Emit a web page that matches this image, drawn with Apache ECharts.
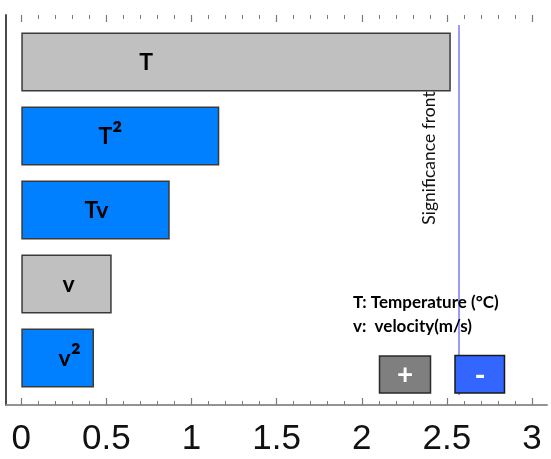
<!DOCTYPE html>
<html>
<head>
<meta charset="utf-8">
<script src="https://cdn.jsdelivr.net/npm/echarts@6/dist/echarts.min.js"></script>
<style>
html,body{margin:0;padding:0;background:#fff;}
#chart{width:551px;height:459px;}
</style>
</head>
<body>
<div id="chart"></div>
<script>
// ---- data ----
var categories = ['T', 'T²', 'Tv', 'v', 'v²'];
var effects = [2.523, 1.163, 0.872, 0.531, 0.427];
var signs = ['+', '-', '-', '+', '-'];
var significanceFront = 2.571;
var xTicks = [0, 0.5, 1, 1.5, 2, 2.5, 3];
var notes = ['T: Temperature (°C)', 'v:  velocity(m/s)'];
var signLabels = ['+', '-'];

// ---- styles (kept separate from data) ----
var signColor = { '+': '#c0c0c0', '-': '#007fff' };
var labelOffsetX = [-90, -10, 1, 2, 12];

var chart = echarts.init(document.getElementById('chart'), null, { renderer: 'canvas' });

var barData = effects.map(function (v, i) {
  return {
    value: v,
    itemStyle: { color: signColor[signs[i]] },
    label: { offset: [labelOffsetX[i], 1] }
  };
});

function richName(name) {
  // render the "²" larger, like the original
  if (name.indexOf('²') >= 0) {
    return name.replace('²', '') + '{sup|²}';
  }
  return name;
}

var tickAxisBase = {
  gridIndex: 1,
  type: 'value',
  min: xTicks[0],
  max: xTicks[xTicks.length - 1],
  interval: xTicks[1] - xTicks[0],
  offset: 10,
  axisLine: { show: false },
  axisTick: { show: true, inside: true, length: 7, lineStyle: { color: '#7a7a7a', width: 1.2 } },
  minorTick: { show: true, splitNumber: 5, length: 4, lineStyle: { color: '#7a7a7a', width: 1 } },
  splitLine: { show: false },
  minorSplitLine: { show: false }
};

var option = {
  backgroundColor: '#ffffff',
  animation: false,
  grid: [
    { left: 6, right: 4, top: 15, bottom: 54, show: false },
    { left: 21.3, right: 19, top: 25, bottom: 64 }
  ],
  xAxis: [
    { gridIndex: 0, type: 'value', position: 'bottom', min: 0, max: 1,
      axisLine: { show: true, lineStyle: { color: '#555', width: 1.5 } },
      axisTick: { show: false }, axisLabel: { show: false }, splitLine: { show: false } },
    { gridIndex: 0, type: 'value', position: 'top', min: 0, max: 1,
      axisLine: { show: true, lineStyle: { color: '#9a9a9a', width: 1.5 } },
      axisTick: { show: false }, axisLabel: { show: false }, splitLine: { show: false } },
    Object.assign({}, tickAxisBase, {
      position: 'bottom',
      axisLabel: {
        show: true, margin: 17, color: '#111',
        fontFamily: '"Liberation Sans Narrow", "Liberation Sans", Arial, sans-serif',
        fontSize: 35,
        formatter: function (v) { return String(v); }
      }
    }),
    Object.assign({}, tickAxisBase, {
      position: 'top',
      axisLabel: { show: false }
    })
  ],
  yAxis: [
    { gridIndex: 0, type: 'value', position: 'left', min: 0, max: 1,
      axisLine: { show: true, lineStyle: { color: '#222', width: 1.5 } },
      axisTick: { show: false }, axisLabel: { show: false }, splitLine: { show: false } },
    { gridIndex: 0, type: 'value', position: 'right', min: 0, max: 1,
      axisLine: { show: true, lineStyle: { color: '#444', width: 1.5 } },
      axisTick: { show: false }, axisLabel: { show: false }, splitLine: { show: false } },
    { gridIndex: 1, type: 'category', inverse: true, data: categories,
      boundaryGap: true,
      axisLine: { show: false }, axisTick: { show: false }, axisLabel: { show: false },
      splitLine: { show: false } }
  ],
  series: [
    {
      type: 'bar',
      xAxisIndex: 2,
      yAxisIndex: 2,
      data: barData,
      barWidth: 59,
      itemStyle: { borderColor: '#3a3a3a', borderWidth: 1.5 },
      label: {
        show: true,
        position: 'inside',
        formatter: function (p) { return richName(categories[p.dataIndex]); },
        color: '#000',
        fontFamily: 'Lato, "Open Sans", sans-serif',
        fontWeight: 'bold',
        fontSize: 23,
        rich: {
          sup: {
            color: '#000',
            fontFamily: 'Lato, "Open Sans", sans-serif',
            fontWeight: 'bold',
            fontSize: 30,
            padding: [0, 0, 2, 0]
          }
        }
      },
      markLine: {
        silent: true,
        symbol: ['none', 'none'],
        label: { show: false },
        lineStyle: { color: '#9a9aff', width: 2, type: 'solid' },
        data: [{ xAxis: significanceFront }],
        z: 1
      },
      z: 2
    }
  ],
  graphic: [
    {
      type: 'text', x: 429, y: 158, rotation: Math.PI / 2,
      style: { text: 'Significance front', fill: '#111', font: '17.5px Lato, "Open Sans", sans-serif',
        align: 'center', verticalAlign: 'middle' }
    },
    {
      type: 'text', x: 353, y: 303,
      style: { text: notes[0], fill: '#000', font: 'bold 17px Lato, "Open Sans", sans-serif',
        align: 'left', verticalAlign: 'middle' }, z: 10
    },
    {
      type: 'text', x: 353, y: 327,
      style: { text: notes[1], fill: '#000', font: 'bold 17px Lato, "Open Sans", sans-serif',
        align: 'left', verticalAlign: 'middle' }, z: 10
    },
    {
      type: 'rect', shape: { x: 379.5, y: 356, width: 51, height: 37 },
      style: { fill: '#7f7f7f', stroke: '#2a2a2a', lineWidth: 1.5 }, z: 10
    },
    {
      type: 'text', x: 405, y: 375,
      style: { text: signLabels[0], fill: '#fff', font: 'bold 28px Lato, "Open Sans", sans-serif',
        align: 'center', verticalAlign: 'middle' }, z: 11
    },
    {
      type: 'rect', shape: { x: 455, y: 355.5, width: 49.5, height: 37.5 },
      style: { fill: '#3366ff', stroke: '#1a1a1a', lineWidth: 1.5 }, z: 10
    },
    {
      type: 'text', x: 480, y: 376,
      style: { text: signLabels[1], fill: '#fff', font: 'bold 30px Lato, "Open Sans", sans-serif',
        align: 'center', verticalAlign: 'middle' }, z: 11
    }
  ]
};

chart.setOption(option);
</script>
</body>
</html>
